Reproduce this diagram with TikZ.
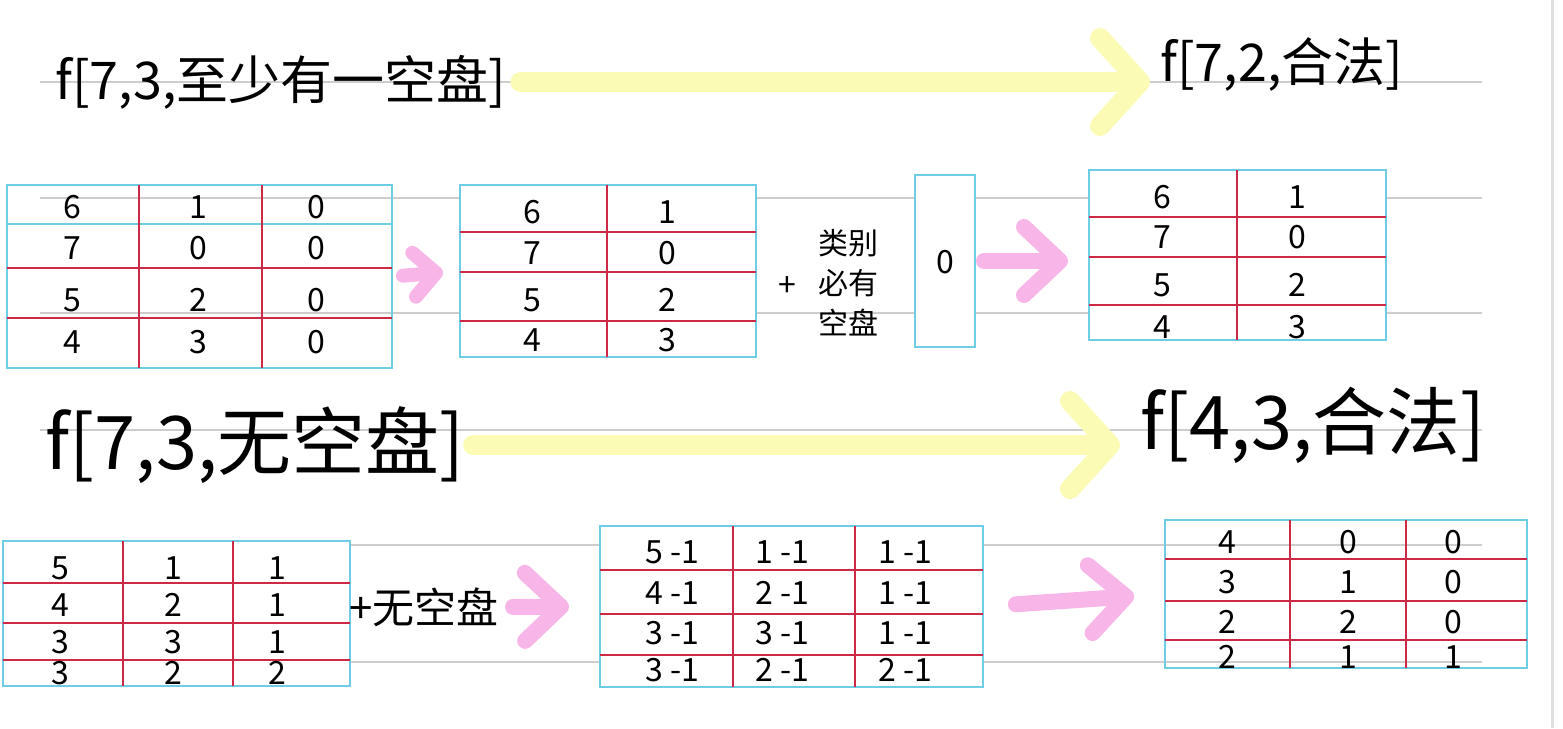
\documentclass[tikz,border=0pt]{standalone}
\usepackage{fontspec}
\newfontfamily\cjk{Noto Sans CJK SC}
\usetikzlibrary{arrows.meta,fit}

\definecolor{ruleline}{RGB}{205,205,205}
\definecolor{gridred}{RGB}{205,40,70}
\definecolor{framecyan}{RGB}{110,205,228}
\definecolor{hlyellow}{RGB}{251,251,182}
\definecolor{hlpink}{RGB}{248,182,232}

\tikzset{
  head/.style={font=\cjk\fontsize{26}{30}\selectfont,inner sep=0pt,anchor=west},
  bighead/.style={head,font=\cjk\fontsize{37}{40}\selectfont},
  cell/.style={font=\cjk\fontsize{16}{18}\selectfont,inner sep=1pt},
  note/.style={font=\cjk\fontsize{15}{20}\selectfont,align=center,inner sep=0pt},
  tbl/.style={draw=framecyan,line width=1pt,inner sep=0pt},
  sepline/.style={draw=gridred,line width=0.7pt},
  ruled/.style={draw=ruleline,line width=0.7pt},
  yarrow/.style={draw=hlyellow,line width=10pt,line cap=round,
    -{Straight Barb[length=20pt,width=44pt,line width=10pt,round]}},
  parrow/.style={draw=hlpink,line width=8pt,line cap=round,
    -{Straight Barb[length=18pt,width=34pt,line width=8pt,round]}},
  smallparrow/.style={draw=hlpink,line width=7pt,line cap=round,
    -{Straight Barb[length=11pt,width=22pt,line width=7pt,round]}},
}

\begin{document}
\begin{tikzpicture}[x=0.5pt,y=-0.5pt]
  \useasboundingbox (0,0) rectangle (1563,728);
  % ruled paper
  \foreach \y in {82,198,313,430,545,662}
    \draw[ruled] (40,\y) -- (1482,\y);
  \draw[black!12,line width=1.5pt] (1552,0) -- (1552,728);

  % headings
  \node[head] (h1) at (55,82) {f[7,3,至少有一空盘]};
  \node[head] (h2) at (1160,65) {f[7,2,合法]};
  \node[bighead] (h3) at (45,445) {f[7,3,无空盘]};
  \node[bighead] (h4) at (1140,425) {f[4,3,合法]};

  % table 1
  \node[tbl,fit={(7,185) (392,368)}] (t1) {};
  \draw[tbl] (7,224) -- (392,224);
  \foreach \x in {139,262} \draw[sepline] (\x,185) -- (\x,368);
  \foreach \y in {268,318} \draw[sepline] (7,\y) -- (392,\y);
  \foreach \a/\b/\c/\y in {6/1/0/207,7/0/0/248,5/2/0/300,4/3/0/342}{
    \node[cell] (t1a\y) at (72,\y) {\a};
    \node[cell] (t1b\y) at (198,\y) {\b};
    \node[cell] (t1c\y) at (316,\y) {\c};
  }

  % table 2
  \node[tbl,fill=white,fit={(460,185) (756,357)}] (t2) {};
  \draw[sepline] (607,185) -- (607,357);
  \foreach \y in {232,272,321} \draw[sepline] (460,\y) -- (756,\y);
  \foreach \a/\b/\y in {6/1/212,7/0/253,5/2/300,4/3/340}{
    \node[cell] (t2a\y) at (532,\y) {\a};
    \node[cell] (t2b\y) at (667,\y) {\b};
  }

  % extra column
  \node[cell] (p1) at (787,287) {+};
  \node[note] (n1) at (848,283) {类别\\必有\\空盘};
  \node[tbl,fill=white,fit={(915,175) (975,347)}] (b0) {};
  \node[cell] (z0) at (945,262) {0};

  % table 3
  \node[tbl,fill=white,fit={(1089,170) (1386,340)}] (t3) {};
  \draw[sepline] (1237,170) -- (1237,340);
  \foreach \y in {217,257,305} \draw[sepline] (1089,\y) -- (1386,\y);
  \foreach \a/\b/\y in {6/1/197,7/0/237,5/2/285,4/3/327}{
    \node[cell] (t3a\y) at (1162,\y) {\a};
    \node[cell] (t3b\y) at (1297,\y) {\b};
  }

  % table 4
  \node[tbl,fill=white,fit={(3,541) (350,686)}] (t4) {};
  \foreach \x in {123,233} \draw[sepline] (\x,541) -- (\x,686);
  \foreach \y in {583,623,660} \draw[sepline] (3,\y) -- (350,\y);
  \foreach \a/\b/\c/\y in {5/1/1/568,4/2/1/605,3/3/1/642,3/2/2/673}{
    \node[cell] (t4a\y) at (60,\y) {\a};
    \node[cell] (t4b\y) at (173,\y) {\b};
    \node[cell] (t4c\y) at (277,\y) {\c};
  }
  \node[font=\cjk\fontsize{21}{26}\selectfont,inner sep=0pt] (p2) at (424,607) {+无空盘};

  % table 5
  \node[tbl,fill=white,fit={(600,526) (983,687)}] (t5) {};
  \foreach \x in {733,855} \draw[sepline] (\x,526) -- (\x,687);
  \foreach \y in {570,614,655} \draw[sepline] (600,\y) -- (983,\y);
  \foreach \a/\b/\c/\y in {5/1/1/552,4/2/1/593,3/3/1/633,3/2/2/670}{
    \node[cell] (t5a\y) at (672,\y) {\a\ -1};
    \node[cell] (t5b\y) at (782,\y) {\b\ -1};
    \node[cell] (t5c\y) at (905,\y) {\c\ -1};
  }

  % table 6
  \node[tbl,fit={(1165,520) (1527,668)}] (t6) {};
  \foreach \x in {1290,1406} \draw[sepline] (\x,520) -- (\x,668);
  \foreach \y in {559,601,640} \draw[sepline] (1165,\y) -- (1527,\y);
  \foreach \a/\b/\c/\y in {4/0/0/542,3/1/0/582,2/2/0/622,2/1/1/657}{
    \node[cell] (t6a\y) at (1227,\y) {\a};
    \node[cell] (t6b\y) at (1348,\y) {\b};
    \node[cell] (t6c\y) at (1453,\y) {\c};
  }

  % highlighter arrows
  \draw[yarrow,shorten <=7pt,shorten >=5pt] (h1.east) -- (h1.east -| h2.west);
  \draw[yarrow,shorten <=4pt,shorten >=10pt] (h3.east) -- (h3.east -| h4.west);
  \draw[smallparrow,shorten <=5pt,shorten >=8pt] (t1.east) -- (t2.west);
  \draw[parrow,shorten <=4pt,shorten >=10pt] (b0.east) -- (b0.east -| t3.west);
  \draw[parrow,shorten <=7pt,shorten >=15pt] (p2.east) -- (t5.west);
  \draw[parrow,shorten <=16pt,shorten >=15pt] (t5.east) -- (t6.west);
\end{tikzpicture}
\end{document}
